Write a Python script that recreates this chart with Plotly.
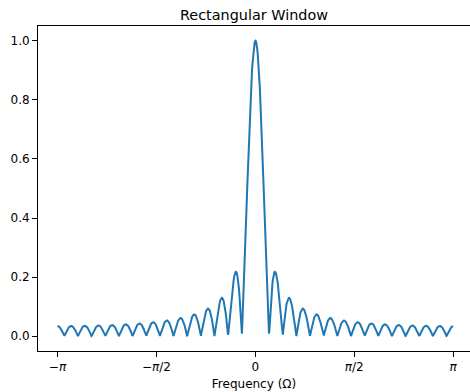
import numpy as np
import plotly.graph_objects as go

# Data: the rectangular window (29 samples of 1) and the FFT length used for its spectrum
window = [1.0] * 29
nfft = 1024
x_tick_vals = [-np.pi, -np.pi / 2, 0, np.pi / 2, np.pi]
x_tick_text = ["−<i>π</i>", "−<i>π</i>/2", "0", "<i>π</i>/2", "<i>π</i>"]
y_tick_vals = [0.0, 0.2, 0.4, 0.6, 0.8, 1.0]

w = np.array(window)
spec = np.fft.fftshift(np.fft.fft(w, nfft))
mag = np.abs(spec) / np.sum(w)
freq = np.linspace(-np.pi, np.pi, nfft)

fig = go.Figure()
fig.add_trace(go.Scatter(x=freq, y=mag, mode="lines",
                         line=dict(color="#1f77b4", width=2), showlegend=False,
                         hoverinfo="skip"))

px_per_unit = 396 / (2 * np.pi)
fig.update_layout(
    width=470, height=392,
    margin=dict(l=38, r=0, t=26, b=41),
    paper_bgcolor="white", plot_bgcolor="white",
    font=dict(family="DejaVu Sans", size=12, color="black"),
    title=dict(text="Rectangular Window", x=0.5, xref="paper",
               xanchor="center", y=1, yref="paper", yanchor="bottom",
               pad=dict(b=6), font=dict(size=14.4, color="black")),
    xaxis=dict(range=[-np.pi - 19.5 / px_per_unit, np.pi + 17 / px_per_unit],
               tickvals=x_tick_vals, ticktext=x_tick_text,
               ticks="outside", ticklen=5, tickwidth=1, tickcolor="black",
               showline=True, linecolor="black", linewidth=1, mirror=True,
               showgrid=False, zeroline=False,
               title=dict(text="Frequency (Ω)", standoff=6, font=dict(size=12))),
    yaxis=dict(range=[-0.05, 1.05], tickvals=y_tick_vals, tickformat=".1f",
               ticks="outside", ticklen=5, tickwidth=1, tickcolor="black",
               showline=True, linecolor="black", linewidth=1,
               showgrid=False, zeroline=False),
)

fig.write_html("out.html")
